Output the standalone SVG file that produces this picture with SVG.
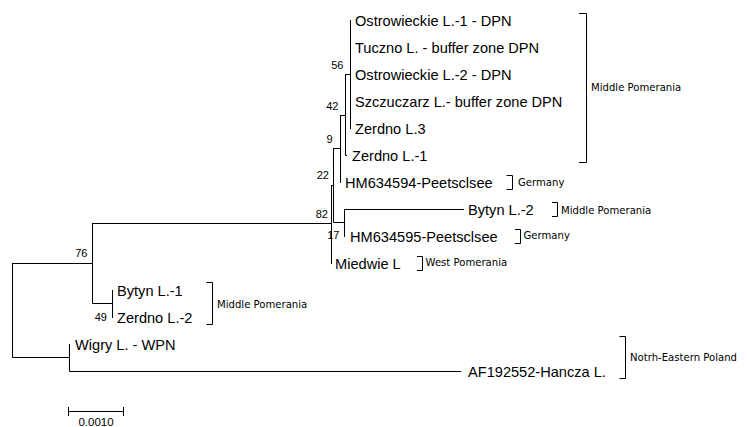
<svg xmlns="http://www.w3.org/2000/svg" width="747" height="427" viewBox="0 0 747 427">
<style>
  .br { fill: none; stroke: #000; stroke-width: 1; stroke-linecap: square; }
  .bk { fill: none; stroke: #000; stroke-width: 1; }
  .leaf { font-family: "Liberation Sans", Arial, sans-serif; font-size: 14.6px; fill: #000; }
  .bs { font-family: "Liberation Sans", Arial, sans-serif; font-size: 11px; fill: #000; text-anchor: end; }
  .reg { font-family: "DejaVu Sans", Verdana, sans-serif; font-size: 10.1px; fill: #000; }
  .sc { font-family: "Liberation Sans", Arial, sans-serif; font-size: 11.5px; fill: #000; text-anchor: middle; }
</style>
<rect width="747" height="427" fill="#fff"/>

<g id="connectors">
  <path class="br" d="M350.5 20.5 V128.5"/>
  <path class="br" d="M345.5 74.5 H350.5 M345.5 74.5 V155.5 H346.5"/>
  <path class="br" d="M340.5 115.5 H345.5 M340.5 115.5 V182.5"/>
  <path class="br" d="M333.5 148.5 H340.5 M333.5 148.5 V222.5 H344.5"/>
  <path class="br" d="M344.5 209.5 H463.5 M344.5 209.5 V236.5"/>
  <path class="br" d="M331.5 185.5 H333.5 M331.5 185.5 V263.5"/>
  <path class="br" d="M92.5 223.5 H331.5 M92.5 223.5 V303.5 H112.5"/>
  <path class="br" d="M112.5 290.5 V317.5"/>
  <path class="br" d="M12.5 263.5 H92.5 M12.5 263.5 V357.5 H69.5"/>
  <path class="br" d="M69.5 344.5 V371.5 H460.5"/>
</g>

<g id="bootstrap">
  <text class="bs" x="343.5" y="69">56</text>
  <text class="bs" x="338.5" y="110">42</text>
  <text class="bs" x="332.5" y="143">9</text>
  <text class="bs" x="329" y="179">22</text>
  <text class="bs" x="328" y="218">82</text>
  <text class="bs" x="339.5" y="239">17</text>
  <text class="bs" x="87.5" y="257">76</text>
  <text class="bs" x="107" y="320.5">49</text>
</g>

<g id="leaf-ostrowieckie-1"><text class="leaf" x="355" y="26">Ostrowieckie L.-1 - DPN</text></g>
<g id="leaf-tuczno"><text class="leaf" x="355" y="53">Tuczno L. - buffer zone DPN</text></g>
<g id="leaf-ostrowieckie-2"><text class="leaf" x="355" y="80">Ostrowieckie L.-2 - DPN</text></g>
<g id="leaf-szczuczarz"><text class="leaf" x="355" y="107">Szczuczarz L.- buffer zone DPN</text></g>
<g id="leaf-zerdno-3"><text class="leaf" x="355" y="134">Zerdno L.3</text></g>
<g id="leaf-zerdno-1"><text class="leaf" x="352" y="161">Zerdno L.-1</text></g>
<g id="leaf-hm634594"><text class="leaf" x="345" y="188">HM634594-Peetsclsee</text></g>
<g id="leaf-bytyn-2"><text class="leaf" x="468" y="215">Bytyn L.-2</text></g>
<g id="leaf-hm634595"><text class="leaf" x="350" y="242">HM634595-Peetsclsee</text></g>
<g id="leaf-miedwie"><text class="leaf" x="335" y="269">Miedwie L</text></g>
<g id="leaf-bytyn-1"><text class="leaf" x="117" y="296">Bytyn L.-1</text></g>
<g id="leaf-zerdno-2"><text class="leaf" x="117" y="323">Zerdno L.-2</text></g>
<g id="leaf-wigry"><text class="leaf" x="75" y="350">Wigry L. - WPN</text></g>
<g id="leaf-af192552"><text class="leaf" x="468" y="377">AF192552-Hancza L.</text></g>

<g id="group-middle-pomerania-1">
  <path class="bk" d="M579 13.5 H586.5 V162.5 H579"/>
  <text class="reg" x="591" y="91">Middle Pomerania</text>
</g>
<g id="group-germany-1">
  <path class="bk" d="M506.5 175.5 H512.5 V189.5 H506.5"/>
  <text class="reg" x="518" y="186">Germany</text>
</g>
<g id="group-middle-pomerania-2">
  <path class="bk" d="M552 202.5 H557.5 V216.5 H552"/>
  <text class="reg" x="561" y="213.5">Middle Pomerania</text>
</g>
<g id="group-germany-2">
  <path class="bk" d="M515 229.5 H520.5 V243.5 H515"/>
  <text class="reg" x="523.5" y="239">Germany</text>
</g>
<g id="group-west-pomerania">
  <path class="bk" d="M417 256.5 H422.5 V270.5 H417"/>
  <text class="reg" x="425.5" y="265.5">West Pomerania</text>
</g>
<g id="group-middle-pomerania-3">
  <path class="bk" d="M206.5 282.5 H212.5 V324.5 H206.5"/>
  <text class="reg" x="217" y="307.5">Middle Pomerania</text>
</g>
<g id="group-ne-poland">
  <path class="bk" d="M619.5 336.5 H625.5 V378.5 H619.5"/>
  <text class="reg" x="630" y="361">Notrh-Eastern Poland</text>
</g>

<g id="scale-bar">
  <path class="bk" d="M68.5 411.5 H123.5 M68.5 407 V416 M123.5 407 V416"/>
  <text class="sc" x="96" y="426">0.0010</text>
</g>
</svg>
